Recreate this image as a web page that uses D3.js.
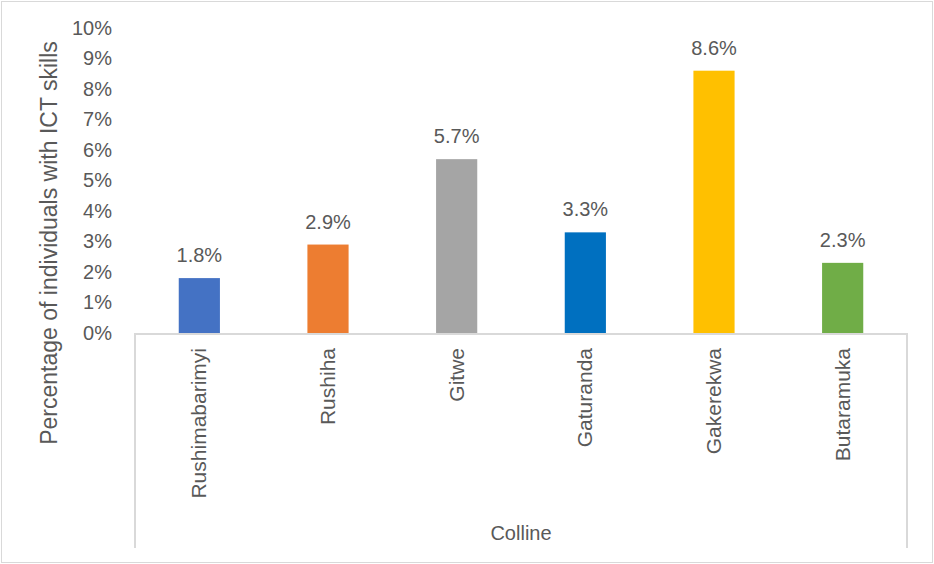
<!DOCTYPE html>
<html>
<head>
<meta charset="utf-8">
<script src="https://cdn.jsdelivr.net/npm/d3@7"></script>
<style>
  html, body { margin: 0; padding: 0; background: #fff; }
  svg text { font-family: "Liberation Sans", Arial, sans-serif; fill: #595959; }
</style>
</head>
<body>
<svg id="chart" width="934" height="564"></svg>
<script>
// Share of individuals with ICT skills, by colline
const categories = ["Rushimabarimyi", "Rushiha", "Gitwe", "Gaturanda", "Gakerekwa", "Butaramuka"];
const values = [0.018, 0.029, 0.057, 0.033, 0.086, 0.023];
const barColors = ["#4472C4", "#ED7D31", "#A5A5A5", "#0070C0", "#FFC000", "#70AD47"];
const yTicks = [0, 0.01, 0.02, 0.03, 0.04, 0.05, 0.06, 0.07, 0.08, 0.09, 0.10];
const yTitle = "Percentage of individuals with ICT skills";
const xTitle = "Colline";

const W = 934, H = 564;
const plot = { left: 135, right: 907, top: 28, bottom: 333 };
const groupBottom = 548;

const svg = d3.select("#chart");

// chart frame
svg.append("rect")
  .attr("x", 1.5).attr("y", 1.5)
  .attr("width", W - 3).attr("height", H - 3)
  .attr("fill", "#fff").attr("stroke", "#D9D9D9").attr("stroke-width", 1);

const x = d3.scaleBand()
  .domain(categories)
  .range([plot.left, plot.right])
  .paddingInner(0.68).paddingOuter(0.34);

const y = d3.scaleLinear()
  .domain([0, 0.10])
  .range([plot.bottom, plot.top]);

const pct = d3.format(".0%");
const pct1 = d3.format(".1%");

// value axis: labels only
const yAxis = svg.append("g")
  .attr("transform", `translate(${plot.left},0)`)
  .call(d3.axisLeft(y).tickValues(yTicks).tickFormat(pct).tickSize(0).tickPadding(23));
yAxis.select(".domain").remove();
yAxis.selectAll("text").attr("font-size", 20).style("fill", "#595959")
  .attr("font-family", "\"Liberation Sans\", Arial, sans-serif");

// bars
svg.append("g").selectAll("rect")
  .data(values)
  .join("rect")
  .attr("x", (d, i) => x(categories[i]))
  .attr("y", d => y(d))
  .attr("width", x.bandwidth())
  .attr("height", d => y(0) - y(d))
  .attr("fill", (d, i) => barColors[i]);

// data labels
svg.append("g").selectAll("text")
  .data(values)
  .join("text")
  .attr("x", (d, i) => x(categories[i]) + x.bandwidth() / 2)
  .attr("y", d => y(d) - 16)
  .attr("text-anchor", "middle")
  .attr("font-size", 20)
  .text(d => pct1(d));

// category axis line and group box
const axisG = svg.append("g").attr("stroke", "#D9D9D9").attr("stroke-width", 2).attr("fill", "none");
axisG.append("line").attr("x1", plot.left).attr("x2", plot.right).attr("y1", plot.bottom + 1).attr("y2", plot.bottom + 1);
axisG.append("line").attr("x1", plot.left).attr("x2", plot.left).attr("y1", plot.bottom).attr("y2", groupBottom);
axisG.append("line").attr("x1", plot.right).attr("x2", plot.right).attr("y1", plot.bottom).attr("y2", groupBottom);

// rotated category labels
svg.append("g").selectAll("text")
  .data(categories)
  .join("text")
  .attr("transform", d => `translate(${x(d) + x.bandwidth() / 2 + 7},${plot.bottom + 15}) rotate(-90)`)
  .attr("text-anchor", "end")
  .attr("font-size", 21)
  .text(d => d);

// axis titles
svg.append("text")
  .attr("x", (plot.left + plot.right) / 2)
  .attr("y", 540)
  .attr("text-anchor", "middle")
  .attr("font-size", 20)
  .text(xTitle);

svg.append("text")
  .attr("transform", `translate(57,243) rotate(-90)`)
  .attr("text-anchor", "middle")
  .attr("font-size", 23)
  .text(yTitle);
</script>
</body>
</html>
